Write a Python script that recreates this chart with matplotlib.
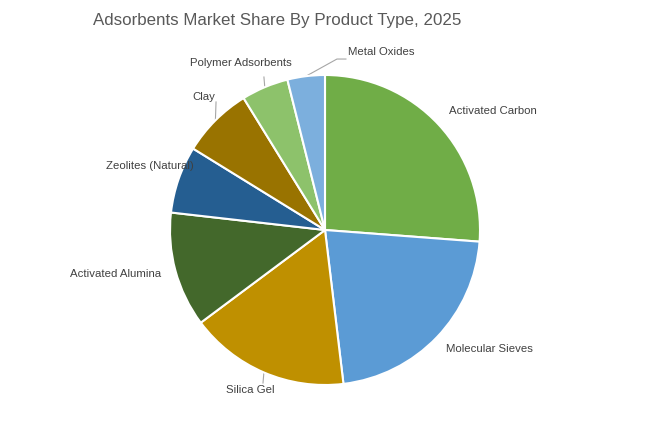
import matplotlib
matplotlib.use("Agg")
import matplotlib.pyplot as plt
import numpy as np

categories = ["Activated Carbon", "Molecular Sieves", "Silica Gel", "Activated Alumina",
              "Zeolites (Natural)", "Clay", "Polymer Adsorbents", "Metal Oxides"]
shares = [26.2, 21.9, 16.7, 12.0, 7.0, 7.4, 4.9, 3.9]
colors = ["#70AD47", "#5B9BD5", "#BF9000", "#43682B", "#255E91", "#997300", "#8DC26B", "#7CAFDD"]

# label text positions (in pie-radius units)
label_pos = [(1.08, 0.77), (1.06, -0.77), (-0.48, -1.035), (-1.35, -0.284),
             (-1.13, 0.413), (-0.78, 0.86), (-0.54, 1.08), (0.36, 1.15)]
# leader-line waypoints after the wedge edge (None = no leader)
leaders = [None, None,
           [(-0.40, -0.987)],
           None, None,
           [(-0.703, 0.826)],
           [(-0.394, 0.987)],
           [(0.077, 1.103), (0.135, 1.103)]]

plt.rcParams['font.family'] = ['Liberation Sans', 'DejaVu Sans']
fig = plt.figure(figsize=(6.49, 4.24), dpi=100)
ax = fig.add_axes([(325 - 155) / 649, (424 - 230 - 155) / 424, 310 / 649, 310 / 424])
wedges, _ = ax.pie(shares, colors=colors, startangle=90, counterclock=False,
                   wedgeprops=dict(edgecolor="white", linewidth=1.5))
ax.set_xlim(-1, 1)
ax.set_ylim(-1, 1)
ax.set_aspect("equal")

for w, name, (lx, ly), ld in zip(wedges, categories, label_pos, leaders):
    ang = np.deg2rad((w.theta1 + w.theta2) / 2)
    if ld:
        xs = [np.cos(ang)] + [p[0] for p in ld]
        ys = [np.sin(ang)] + [p[1] for p in ld]
        ax.plot(xs, ys, color="#a6a6a6", lw=0.8, clip_on=False, zorder=0.5)
    ax.text(lx, ly, name, ha="center", va="center", fontsize=8.2, color="#404040",
            clip_on=False)

fig.text(277 / 649, 1 - 20 / 424, "Adsorbents Market Share By Product Type, 2025",
         ha="center", va="center", fontsize=12.2, color="#595959")

fig.savefig("out.png", dpi=100)
